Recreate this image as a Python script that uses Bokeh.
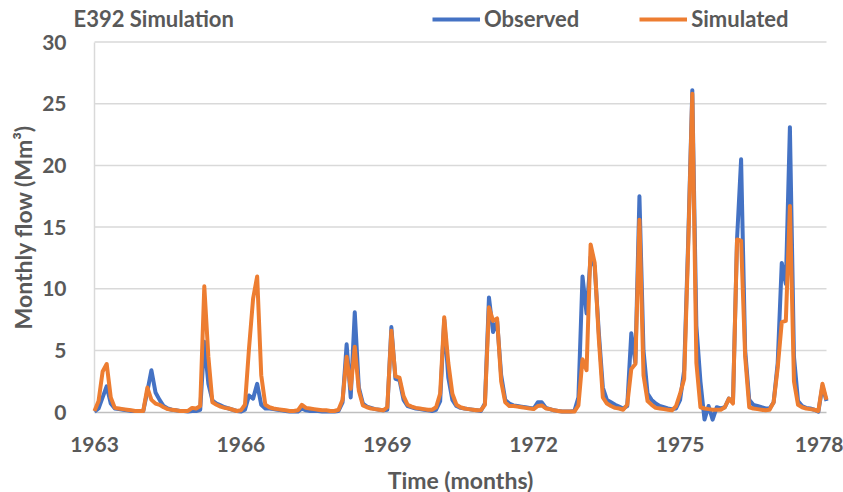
import math
from bokeh.plotting import figure
from bokeh.models import FixedTicker, Legend, LegendItem, Label, LinearAxis, Range1d
from bokeh.embed import file_html
from bokeh.resources import INLINE

# Monthly flow (Mm3), January 1963 to January 1978
start_year = 1963
observed = [
    0.05, 0.3, 1.2, 2.1, 0.7, 0.3, 0.25, 0.2, 0.15, 0.1, 0.1, 0.1,      # 1963
    0.1, 1.7, 3.4, 1.6, 1.0, 0.5, 0.3, 0.2, 0.15, 0.1, 0.1, 0.05,       # 1964
    0.1, 0.1, 0.2, 5.7, 2.3, 0.95, 0.7, 0.55, 0.4, 0.3, 0.2, 0.1,       # 1965
    0.05, 0.2, 1.35, 1.1, 2.3, 0.6, 0.3, 0.3, 0.25, 0.2, 0.15, 0.1,     # 1966
    0.05, 0.05, 0.05, 0.3, 0.15, 0.1, 0.1, 0.1, 0.05, 0.05, 0.05, 0.05, # 1967
    0.1, 0.8, 5.5, 1.2, 8.1, 2.0, 0.7, 0.45, 0.35, 0.25, 0.2, 0.15,     # 1968
    0.2, 6.9, 2.7, 2.6, 1.0, 0.5, 0.4, 0.3, 0.25, 0.2, 0.15, 0.1,       # 1969
    0.2, 0.9, 7.5, 2.8, 1.0, 0.5, 0.35, 0.3, 0.25, 0.2, 0.15, 0.1,      # 1970
    0.7, 9.3, 6.5, 7.4, 3.0, 1.0, 0.7, 0.55, 0.5, 0.45, 0.4, 0.35,      # 1971
    0.3, 0.8, 0.8, 0.35, 0.25, 0.15, 0.1, 0.05, 0.05, 0.05, 0.1, 1.2,   # 1972
    11.0, 8.0, 12.6, 11.8, 6.5, 2.0, 1.0, 0.8, 0.6, 0.45, 0.3, 0.5,     # 1973
    6.4, 4.0, 17.5, 5.0, 1.5, 1.0, 0.7, 0.5, 0.4, 0.3, 0.25, 0.3,       # 1974
    1.0, 3.4, 14.0, 26.1, 7.0, 2.5, -0.6, 0.5, -0.6, 0.4, 0.3, 0.4,     # 1975
    1.1, 0.8, 14.0, 20.5, 5.0, 1.0, 0.6, 0.5, 0.4, 0.3, 0.3, 0.8,       # 1976
    4.0, 12.1, 10.4, 23.1, 4.5, 0.9, 0.5, 0.35, 0.3, 0.2, 0.05, 2.1,    # 1977
    0.9,                                                                # 1978
]
simulated = [
    0.1, 0.9, 3.3, 3.9, 1.2, 0.35, 0.3, 0.25, 0.2, 0.15, 0.1, 0.1,      # 1963
    0.1, 2.0, 1.0, 0.7, 0.6, 0.4, 0.25, 0.2, 0.15, 0.1, 0.1, 0.1,       # 1964
    0.35, 0.3, 0.5, 10.2, 4.5, 0.8, 0.6, 0.45, 0.35, 0.3, 0.2, 0.1,     # 1965
    0.15, 0.6, 5.2, 9.2, 11.0, 3.0, 0.6, 0.4, 0.3, 0.25, 0.2, 0.15,     # 1966
    0.1, 0.1, 0.15, 0.6, 0.35, 0.3, 0.25, 0.2, 0.15, 0.15, 0.1, 0.1,    # 1967
    0.2, 1.0, 4.5, 1.9, 5.3, 1.75, 0.55, 0.4, 0.3, 0.25, 0.2, 0.15,     # 1968
    0.4, 6.6, 2.9, 2.8, 1.3, 0.6, 0.45, 0.35, 0.3, 0.25, 0.2, 0.2,      # 1969
    0.4, 1.5, 7.7, 4.0, 1.5, 0.6, 0.4, 0.3, 0.25, 0.2, 0.15, 0.15,      # 1970
    0.6, 8.5, 7.4, 7.6, 2.5, 0.8, 0.5, 0.5, 0.45, 0.4, 0.35, 0.3,       # 1971
    0.25, 0.5, 0.55, 0.3, 0.25, 0.15, 0.1, 0.05, 0.05, 0.05, 0.05, 0.55,# 1972
    4.3, 3.4, 13.6, 12.1, 6.0, 1.2, 0.7, 0.5, 0.35, 0.3, 0.2, 0.6,      # 1973
    3.5, 3.9, 15.6, 3.0, 0.9, 0.6, 0.35, 0.3, 0.25, 0.2, 0.15, 0.5,     # 1974
    1.5, 2.7, 13.5, 25.8, 4.0, 0.4, 0.3, 0.25, 0.2, 0.2, 0.2, 0.4,      # 1975
    1.1, 0.7, 14.0, 13.9, 4.5, 0.4, 0.3, 0.25, 0.2, 0.15, 0.2, 0.8,     # 1976
    3.6, 7.3, 7.4, 16.7, 2.5, 0.6, 0.4, 0.3, 0.25, 0.2, 0.1, 2.3,       # 1977
    1.0,                                                                # 1978
]
x_ticks = [1963, 1966, 1969, 1972, 1975, 1978]
y_ticks = [0, 5, 10, 15, 20, 25, 30]
series_names = ["Observed", "Simulated"]
series_colors = ["#4472C4", "#ED7D31"]
chart_title = "E392 Simulation"
x_title = "Time (months)"
y_title = "Monthly flow (Mm³)"

months = [start_year + i / 12 for i in range(len(observed))]

TEXT = "#595959"
GRID = "#D9D9D9"
FONT = "Lato"

# ---- canvas geometry (pixels) ----
W, H = 843, 492
PLOT_L, PLOT_R = 94, 826        # pixel columns of the first and last year
PLOT_T, PLOT_B = 41.5, 411.7    # pixel rows of the top tick and of zero
x0, x1 = x_ticks[0], x_ticks[-1]
y0, y1 = y_ticks[0], y_ticks[-1]
px_x = (PLOT_R - PLOT_L) / (x1 - x0)
px_y = (PLOT_B - PLOT_T) / (y1 - y0)


def data_x(px):
    return x0 + (px - PLOT_L) / px_x


def data_y(py):
    return y0 + (PLOT_B - py) / px_y


# the data frame fills the whole canvas so that titles and the key can sit
# anywhere; axes are pinned at the origin
p = figure(
    width=W, height=H,
    output_backend="svg", toolbar_location=None,
    x_range=Range1d(data_x(0), data_x(W)),
    y_range=Range1d(data_y(H), data_y(0)),
    x_axis_location=None, y_axis_location=None,
    min_border=0,
)
p.outline_line_color = None
p.background_fill_color = "white"
p.xgrid.grid_line_color = None
p.ygrid.grid_line_color = None

# horizontal gridlines across the plotting area
grid_y = y_ticks[1:]
p.segment(x0=[x0] * len(grid_y), x1=[x1] * len(grid_y), y0=grid_y, y1=grid_y,
          line_color=GRID, line_width=1.5, level="underlay")

xaxis = LinearAxis(fixed_location=y0, bounds=(x0, x1),
                   ticker=FixedTicker(ticks=x_ticks))
yaxis = LinearAxis(fixed_location=x0, bounds=(y0, y1),
                   ticker=FixedTicker(ticks=y_ticks))
for ax in (xaxis, yaxis):
    ax.major_tick_line_color = None
    ax.minor_tick_line_color = None
    ax.major_label_text_font = FONT
    ax.major_label_text_font_style = "bold"
    ax.major_label_text_font_size = "21px"
    ax.major_label_text_color = TEXT
    ax.level = "underlay"
xaxis.axis_line_color = "#BFBFBF"
xaxis.axis_line_width = 1.5
xaxis.major_label_standoff = 19
yaxis.axis_line_color = GRID
yaxis.axis_line_width = 1.5
yaxis.major_label_standoff = 22
p.add_layout(xaxis, "below")
p.add_layout(yaxis, "left")

r_obs = p.line(months, observed, line_color=series_colors[0], line_width=4,
               line_join="round")
r_sim = p.line(months, simulated, line_color=series_colors[1], line_width=4,
               line_join="round")

label_style = dict(text_font=FONT, text_font_style="bold", text_color=TEXT,
                   text_baseline="middle")
p.add_layout(Label(x=data_x(73), y=data_y(18), text=chart_title,
                   text_font_size="22px", text_align="left", **label_style))
p.add_layout(Label(x=(x0 + x1) / 2, y=data_y(479), text=x_title,
                   text_font_size="23px", text_align="center", **label_style))
p.add_layout(Label(x=data_x(22), y=(y0 + y1) / 2, text=y_title,
                   angle=math.pi / 2, text_font_size="23px",
                   text_align="center", **label_style))

legend = Legend(
    items=[LegendItem(label=n, renderers=[r])
           for n, r in zip(series_names, [r_obs, r_sim])],
    orientation="horizontal",
    location=(432, H - 32),
    glyph_width=48, glyph_height=20,
    label_standoff=4, spacing=60, padding=0, margin=0,
    border_line_color=None, background_fill_alpha=0,
    label_text_font=FONT, label_text_font_style="bold",
    label_text_font_size="22px", label_text_color=TEXT,
)
p.add_layout(legend)

open("out.html", "w").write(file_html(p, INLINE))
